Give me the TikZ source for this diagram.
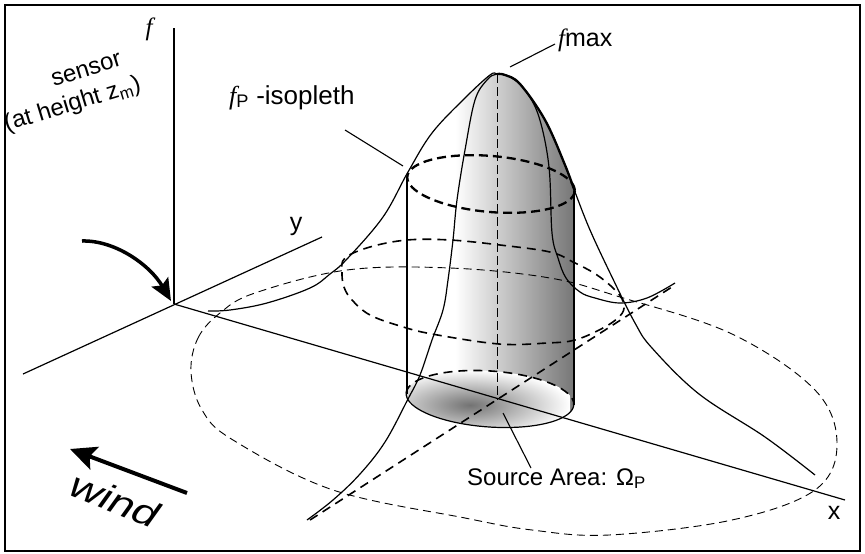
\documentclass[tikz,border=0pt]{standalone}
\usepackage{fontspec}
\setmainfont{Liberation Sans}
\newfontfamily\fserif{Liberation Serif}
\usetikzlibrary{arrows.meta}
\begin{document}
\begin{tikzpicture}[x=1pt,y=-1pt,
  ax/.style={line width=1.2pt},
  prof/.style={line width=1.2pt, line join=round},
  lead/.style={line width=1.1pt},
  thinD/.style={line width=0.9pt, dash pattern=on 8pt off 5pt},
  midD/.style={line width=1.6pt, dash pattern=on 9pt off 6pt},
  thickD/.style={line width=2.3pt, dash pattern=on 9pt off 5pt},
  vertD/.style={line width=1pt, dash pattern=on 9pt off 4pt},
  lbl/.style={inner sep=0pt, font=\fontsize{25}{30}\selectfont},
  bigarrow/.style={line width=4pt, -{Stealth[length=26pt,width=24pt,inset=5pt]}},
]
\useasboundingbox (0,0) rectangle (865,554);
\draw[line width=1.2pt] (5,5) rectangle (860,551);

% shading of the column and cap
\begin{scope}
\clip (407,177) -- plot[smooth] coordinates {(408,172) (432,133) (465,98) (490,75) (497,74) (505,75) (520,84) (545,120) (565,165) (575,192)} -- (574,405) -- plot[domain=0:180, samples=40, variable=\t] ({490+84*cos(\t)*cos(4)-28*sin(\t)*sin(4)},{399+84*cos(\t)*sin(4)+28*sin(\t)*cos(4)}) -- cycle;
\shade[left color=white, right color=black!55] (455,60) rectangle (577,432);
\end{scope}
% shading of the source area
\begin{scope}
\clip plot[domain=0:360, samples=72, variable=\t] ({490+84*cos(\t)*cos(4)-28*sin(\t)*sin(4)},{399+84*cos(\t)*sin(4)+28*sin(\t)*cos(4)}) -- cycle;
\shade[inner color=black!55, outer color=white] (370,370) rectangle (570,440);
\end{scope}

% axes
\coordinate (O) at (174,304);
\coordinate (ftop) at (174,28);
\coordinate (yend) at (322,237);
\coordinate (yback) at (23,374);
\coordinate (xend) at (845,500);
\draw[ax] (ftop) -- (O);
\draw[ax] (yback) -- (yend);
\draw[ax] (O) -- (xend);

% big ground contour
\draw[thinD] plot[smooth cycle, tension=0.6] coordinates {(191,372) (198,338) (220,313) (255,293) (347,270) (450,268) (550,278) (620,297) (732,334) (815,390) (837,444) (815,490) (732,520) (609,535) (532,530) (465,518) (333,490) (233,440) (202,410)};

% middle contour
\draw[midD] plot[smooth cycle, tension=0.6] coordinates {(345,258) (342,272) (344,287) (352,300) (370,315) (400,326) (432,334) (499,344) (547,343) (575,340) (603,328) (620,316) (624,305) (617,292) (597,275) (573,262) (550,252) (500,245) (450,240) (407,240) (370,247)};

% ground trace of cross-wind profile
\coordinate (gA) at (310,520);
\coordinate (gB) at (675,285);
\draw[midD] (gA) -- (gB);

% vertical from the peak
\coordinate (peak) at (497,74);
\coordinate (foot) at (497,400);
\draw[vertD] (peak) -- (foot);

% along-wind profile
\draw[prof] plot[smooth, tension=0.6] coordinates {(208,311) (230,310) (267,303) (310,288) (330,274) (347,259) (383,217) (408,172) (432,133) (465,98) (490,75) (497,74) (505,75) (520,84) (545,120) (565,165) (575,192) (590,230) (612,277) (635,323) (652,348) (699,394) (765,437) (815,475)};
\draw[line width=2.3pt] plot[smooth, tension=0.6] coordinates {(497,74) (505,75) (520,84) (545,120) (565,165) (575,192)};

% cross-wind profile
\draw[prof] plot[smooth, tension=0.6] coordinates {(307,520) (333,500) (360,474) (385,442) (408,399) (420,375) (432,340) (443,310) (448,280) (453,240) (457,200) (465,150) (475,100) (487,80) (497,74) (510,77) (525,90) (539,117) (549,167) (552,233) (558,258) (566,278) (580,292) (595,298) (620,303) (647,298) (675,283)};

% column (source area cylinder)
\draw[prof] (407,177) -- (407,394);
\draw[prof] (574,191) -- (574,405);
\draw[prof] plot[domain=0:180, samples=40, variable=\t] ({490+84*cos(\t)*cos(4)-28*sin(\t)*sin(4)},{399+84*cos(\t)*sin(4)+28*sin(\t)*cos(4)});
\draw[midD] plot[domain=180:360, samples=40, variable=\t] ({490+84*cos(\t)*cos(4)-28*sin(\t)*sin(4)},{399+84*cos(\t)*sin(4)+28*sin(\t)*cos(4)});

% f_P isopleth
\draw[thickD] plot[domain=0:360, samples=90, variable=\t] ({491+84*cos(\t)*cos(5)-28*sin(\t)*sin(5)},{184+84*cos(\t)*sin(5)+28*sin(\t)*cos(5)}) -- cycle;

% labels
\node[lbl, anchor=base] (flab) at (149,35) {\fserif\itshape f};
\node[lbl, anchor=base west, font=\fontsize{26}{30}\selectfont] (fp) at (229,104) {{\fserif\itshape f}\textsubscript{P} -isopleth};
\node[lbl, anchor=base west] (fmax) at (558,46) {{\fserif\itshape f}max};
\node[lbl, anchor=base west, font=\fontsize{24}{30}\selectfont] (src) at (467,485) {Source Area: Ω\textsubscript{P}};
\node[lbl, anchor=base] (ylab) at (296,230) {y};
\node[lbl, anchor=base] (xlab) at (834,519) {x};
\begin{scope}[rotate around={17:(69,93)}]
\node[lbl, transform shape, align=left, font=\fontsize{24}{29}\selectfont] (sens) at (69,93) {\hspace*{58pt}sensor\\(at height z\textsubscript{m})};
\end{scope}
\node[lbl, font=\fontsize{36}{40}\selectfont\itshape, rotate=-22, xscale=1.25] (wind) at (115,500) {wind};

% leaders
\coordinate (fpA) at (345,130);
\coordinate (fpB) at (403,166);
\coordinate (fmA) at (510,67);
\coordinate (fmB) at (555,44);
\coordinate (srA) at (503,413);
\coordinate (srB) at (531,468);
\draw[lead] (fpA) -- (fpB);
\draw[lead] (fmA) -- (fmB);
\draw[lead] (srA) -- (srB);

% arrows
\coordinate (sA) at (82,241);
\coordinate (sB) at (171,301);
\draw[line width=3.5pt, -{Stealth[length=22pt,width=19pt,inset=4pt]}] (sA) .. controls (115,240) and (150,265) .. (sB);
\coordinate (wA) at (187,493);
\coordinate (wB) at (70,449);
\draw[bigarrow] (wA) -- (wB);
\end{tikzpicture}
\end{document}
